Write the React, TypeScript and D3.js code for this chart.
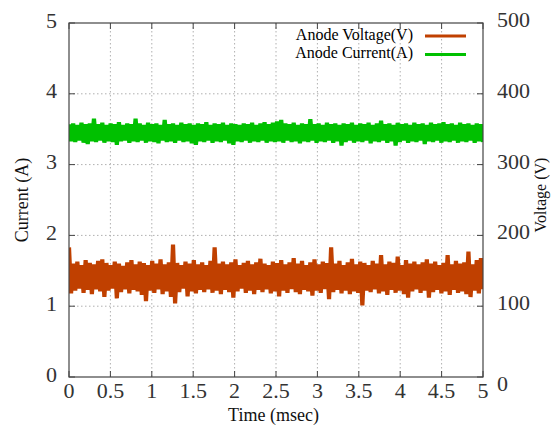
import React from "react";
import * as d3 from "d3";

// Anode voltage samples (V), alternating peaks and troughs of the ripple
const voltage: number[] = [
  183, 118, 160, 122, 163, 125, 158, 119, 165, 123, 161, 117, 159, 124, 164, 121, 166, 113, 161, 122,
  158, 125, 163, 111, 160, 120, 157, 124, 162, 118, 165, 123, 159, 121, 163, 116, 161, 107, 158, 122,
  164, 119, 160, 124, 166, 117, 159, 121, 162, 113, 187, 104, 161, 120, 158, 125, 163, 114, 160, 121,
  165, 118, 159, 123, 162, 120, 158, 124, 164, 119, 183, 122, 160, 117, 163, 123, 159, 120, 162, 112,
  166, 121, 158, 125, 161, 119, 164, 122, 159, 117, 162, 123, 167, 120, 160, 124, 158, 118, 163, 121,
  161, 114, 165, 122, 159, 119, 162, 124, 168, 120, 160, 117, 164, 123, 158, 121, 162, 115, 166, 122,
  159, 119, 163, 124, 161, 110, 183, 120, 160, 123, 164, 118, 158, 122, 162, 117, 167, 121, 159, 119,
  163, 101, 161, 122, 158, 120, 164, 124, 160, 118, 172, 121, 159, 116, 163, 123, 161, 119, 170, 122,
  158, 117, 165, 112, 160, 121, 163, 124, 159, 119, 162, 122, 166, 112, 160, 120, 163, 123, 158, 118,
  161, 121, 172, 116, 159, 123, 164, 119, 160, 121, 162, 117, 177, 113, 159, 122, 165, 118, 168, 124,
];

// Anode current samples (A)
const current: number[] = [
  3.57, 3.33, 3.58, 3.32, 3.56, 3.34, 3.59, 3.31, 3.57, 3.29, 3.58, 3.33, 3.65, 3.32, 3.57, 3.34, 3.59, 3.31, 3.56, 3.33,
  3.58, 3.32, 3.57, 3.28, 3.6, 3.33, 3.56, 3.34, 3.58, 3.31, 3.57, 3.33, 3.65, 3.32, 3.58, 3.34, 3.56, 3.31, 3.59, 3.33,
  3.57, 3.32, 3.58, 3.3, 3.56, 3.34, 3.63, 3.32, 3.57, 3.33, 3.58, 3.31, 3.56, 3.34, 3.59, 3.32, 3.57, 3.33, 3.58, 3.3,
  3.56, 3.28, 3.58, 3.33, 3.57, 3.32, 3.6, 3.34, 3.56, 3.31, 3.58, 3.33, 3.57, 3.32, 3.59, 3.34, 3.56, 3.3, 3.58, 3.28,
  3.57, 3.33, 3.56, 3.32, 3.58, 3.34, 3.57, 3.31, 3.59, 3.33, 3.56, 3.32, 3.58, 3.34, 3.6, 3.31, 3.57, 3.33, 3.59, 3.32,
  3.61, 3.33, 3.63, 3.31, 3.58, 3.34, 3.57, 3.32, 3.59, 3.33, 3.56, 3.3, 3.58, 3.33, 3.57, 3.32, 3.64, 3.34, 3.57, 3.31,
  3.58, 3.33, 3.56, 3.32, 3.59, 3.34, 3.57, 3.31, 3.58, 3.33, 3.56, 3.27, 3.58, 3.32, 3.57, 3.34, 3.59, 3.31, 3.56, 3.33,
  3.58, 3.32, 3.57, 3.34, 3.59, 3.3, 3.56, 3.33, 3.58, 3.32, 3.62, 3.34, 3.57, 3.31, 3.58, 3.33, 3.56, 3.27, 3.59, 3.32,
  3.57, 3.34, 3.58, 3.31, 3.56, 3.33, 3.59, 3.32, 3.57, 3.34, 3.58, 3.29, 3.56, 3.33, 3.59, 3.32, 3.57, 3.34, 3.58, 3.31,
  3.6, 3.33, 3.57, 3.32, 3.58, 3.34, 3.56, 3.31, 3.59, 3.33, 3.57, 3.32, 3.58, 3.34, 3.56, 3.31, 3.58, 3.33, 3.57, 3.32,
];

const timeTicks = [0, 0.5, 1, 1.5, 2, 2.5, 3, 3.5, 4, 4.5, 5];
const currentTicks = [0, 1, 2, 3, 4, 5];
const voltageTicks = [0, 100, 200, 300, 400, 500];
const seriesNames = ["Anode Voltage(V)", "Anode Current(A)"];
const seriesColors = ["#c04000", "#00c000"];

const W = 555;
const H = 425;
const left = 69;
const right = 483;
const top = 23;
const bottom = 377;
const serif = "'Liberation Serif', 'Times New Roman', Times, serif";

export default function App() {
  const tMax = 5;
  const x = d3.scaleLinear().domain([0, tMax]).range([left, right]);
  const yI = d3.scaleLinear().domain([0, 5]).range([bottom, top]);
  const yV = d3.scaleLinear().domain([0, 500]).range([bottom, top]);

  const step = tMax / (voltage.length - 1);
  const vLine = d3
    .line<number>()
    .x((_, i) => x(i * step))
    .y((d) => yV(d));
  const stepI = tMax / (current.length - 1);
  const iLine = d3
    .line<number>()
    .x((_, i) => x(i * stepI))
    .y((d) => yI(d));

  const tickColor = "#333";
  const gridColor = "#b0b0b0";
  const tickLen = 6;

  return (
    <svg
      width={W}
      height={H}
      style={{ position: "absolute", left: 0, top: 0, background: "#fff", fontFamily: serif }}
    >
      <rect x={0} y={0} width={W} height={H} fill="#fff" />
      {/* grid */}
      {timeTicks.slice(1, -1).map((t) => (
        <line
          key={"gx" + t}
          x1={x(t)}
          x2={x(t)}
          y1={top}
          y2={bottom}
          stroke={gridColor}
          strokeWidth={1}
          strokeDasharray="1.5,2.5"
        />
      ))}
      {currentTicks.slice(1, -1).map((v) => (
        <line
          key={"gy" + v}
          x1={left}
          x2={right}
          y1={yI(v)}
          y2={yI(v)}
          stroke={gridColor}
          strokeWidth={1}
          strokeDasharray="1.5,2.5"
        />
      ))}

      {/* data */}
      <clipPath id="plotArea">
        <rect x={left} y={top} width={right - left} height={bottom - top} />
      </clipPath>
      <g clipPath="url(#plotArea)">
        <path d={vLine(voltage) ?? ""} fill="none" stroke={seriesColors[0]} strokeWidth={4.2} strokeLinejoin="bevel" />
        <path d={iLine(current) ?? ""} fill="none" stroke={seriesColors[1]} strokeWidth={4.2} strokeLinejoin="bevel" />
      </g>

      {/* frame */}
      <rect x={left} y={top} width={right - left} height={bottom - top} fill="none" stroke="#444" strokeWidth={1.2} />

      {/* ticks */}
      {timeTicks.map((t) => (
        <g key={"tx" + t}>
          <line x1={x(t)} x2={x(t)} y1={bottom} y2={bottom - tickLen} stroke="#444" />
          <line x1={x(t)} x2={x(t)} y1={top} y2={top + tickLen} stroke="#444" />
          <text x={x(t)} y={398} textAnchor="middle" fontSize={22} fill={tickColor}>
            {t}
          </text>
        </g>
      ))}
      {currentTicks.map((v) => (
        <g key={"ty" + v}>
          <line x1={left} x2={left + tickLen} y1={yI(v)} y2={yI(v)} stroke="#444" />
          <text x={57} y={yI(v) + 4.5} textAnchor="end" fontSize={22} fill={tickColor}>
            {v}
          </text>
        </g>
      ))}
      {voltageTicks.map((v) => (
        <g key={"tv" + v}>
          <line x1={right} x2={right - tickLen} y1={yV(v)} y2={yV(v)} stroke="#444" />
          <text x={497} y={yV(v) + (v === 0 ? 14 : 4)} textAnchor="start" fontSize={22} fill={tickColor}>
            {v}
          </text>
        </g>
      ))}

      {/* axis titles */}
      <text transform="translate(28,200) rotate(-90)" textAnchor="middle" fontSize={18} fill="#111">
        Current (A)
      </text>
      <text transform="translate(546,195) rotate(-90)" textAnchor="middle" fontSize={16} fill="#111">
        Voltage (V)
      </text>
      <text x={273.5} y={421} textAnchor="middle" fontSize={18} fill="#111">
        Time (msec)
      </text>

      {/* legend */}
      {seriesNames.map((name, i) => (
        <g key={name}>
          <text x={413} y={40 + i * 18} textAnchor="end" fontSize={16} fill="#000">
            {name}
          </text>
          <line x1={425} x2={466} y1={36 + i * 18.5} y2={36 + i * 18.5} stroke={seriesColors[i]} strokeWidth={3} />
        </g>
      ))}
    </svg>
  );
}
